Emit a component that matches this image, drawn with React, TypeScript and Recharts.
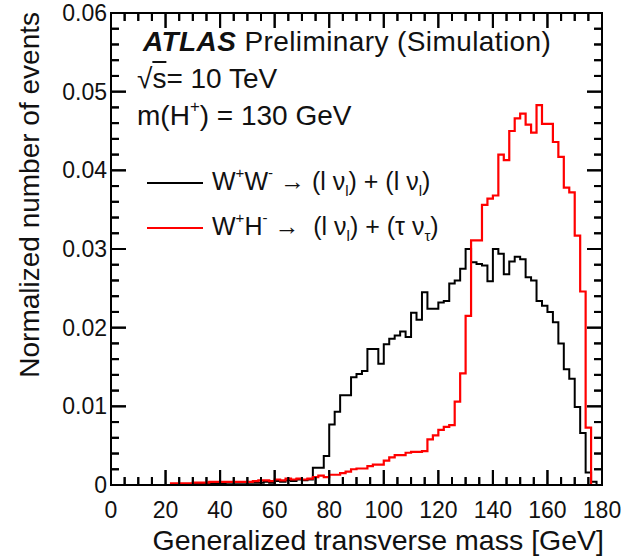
import React from 'react';
import { LineChart, Line, XAxis, YAxis, Label, ReferenceLine, ReferenceArea } from 'recharts';

const FONT = '"Liberation Sans", Arial, Helvetica, sans-serif';

// bin edges of the generalized transverse mass histogram [GeV]
const binEdges = [
  0, 2, 4, 6, 8, 10, 12, 14, 16, 18, 20, 22, 24, 26, 28, 30, 32, 34, 36, 38,
  40, 42, 44, 46, 48, 50, 52, 54, 56, 58, 60, 62, 64, 66, 68, 70, 72, 74, 76, 78,
  80, 82, 84, 86, 88, 90, 92, 94, 96, 98, 100, 102, 104, 106, 108, 110, 112, 114, 116, 118,
  120, 122, 124, 126, 128, 130, 132, 134, 136, 138, 140, 142, 144, 146, 148, 150, 152, 154, 156, 158,
  160, 162, 164, 166, 168, 170, 172, 174, 176, 178, 180,
];

// W+W- -> (l nu)(l nu)
const wwValues = [
  0, 0, 0, 0, 0, 0, 0, 0, 0, 0, 0,
  0.0001, 0.0001, 0.0001, 0.0001,
  0.0002, 0.0002, 0.0002, 0.0002, 0.0002, 0.0002,
  0.0003, 0.0003, 0.0003, 0.0003, 0.0003, 0.0003, 0.0003,
  0.0004, 0.0003,
  0.0005, 0.0004, 0.0006, 0.0005, 0.0007, 0.0006, 0.0007,
  0.0022, 0.0022, 0.0037, 0.0077, 0.0093, 0.0114, 0.0114, 0.0137, 0.0141, 0.0145,
  0.0173, 0.0173, 0.0154, 0.0179, 0.0186, 0.019, 0.0195, 0.0188, 0.0219, 0.021,
  0.0245, 0.0224, 0.0224, 0.0232, 0.0234, 0.0256, 0.026, 0.0275, 0.03, 0.0283,
  0.0281, 0.0279, 0.0259, 0.03, 0.0294, 0.0268, 0.0284, 0.029, 0.0287, 0.0264,
  0.026, 0.0234, 0.0228, 0.022, 0.0207, 0.018, 0.0147, 0.0135, 0.0099, 0.0066,
  0.0016, 0.0004, 0,
];

// W+H- -> (l nu)(tau nu)
const whValues = [
  0, 0, 0, 0, 0, 0, 0, 0, 0, 0, 0,
  0.0002, 0.0002, 0.0002, 0.0002,
  0.0003, 0.0003, 0.0003, 0.0004, 0.0004, 0.0004,
  0.0004, 0.0004, 0.0004, 0.0004, 0.0004, 0.0005, 0.0006,
  0.0006, 0.0005,
  0.0007, 0.0006, 0.0008, 0.0007, 0.0008, 0.0007, 0.0008,
  0.001, 0.0012, 0.001, 0.0013, 0.0013, 0.0015, 0.0017, 0.002, 0.0021, 0.0021,
  0.0024, 0.0026, 0.0026, 0.0031, 0.0035, 0.0038, 0.0038, 0.0041, 0.0042, 0.0042,
  0.0043, 0.0058, 0.0063, 0.007, 0.0074, 0.0076, 0.0106, 0.0142, 0.0215, 0.0311,
  0.0311, 0.0356, 0.0364, 0.0368, 0.042, 0.0413, 0.045, 0.0466, 0.0472, 0.0458,
  0.0448, 0.0483, 0.0459, 0.0459, 0.0436, 0.0417, 0.0378, 0.0372, 0.0317, 0.0246,
  0.0073, 0, 0,
];

const xMajorTicks = [0, 20, 40, 60, 80, 100, 120, 140, 160, 180];
const xMinorTicks = [5, 10, 15, 25, 30, 35, 45, 50, 55, 65, 70, 75, 85, 90, 95, 105, 110, 115, 125, 130, 135, 145, 150, 155, 165, 170, 175];
const yMajorTicks = [0, 0.01, 0.02, 0.03, 0.04, 0.05, 0.06];
const yMinorTicks = [
  0.002, 0.004, 0.006, 0.008, 0.012, 0.014, 0.016, 0.018, 0.022, 0.024, 0.026, 0.028,
  0.032, 0.034, 0.036, 0.038, 0.042, 0.044, 0.046, 0.048, 0.052, 0.054, 0.056, 0.058,
];

const xTicks = [...xMajorTicks, ...xMinorTicks].sort((a, b) => a - b);
const yTicks = [...yMajorTicks, ...yMinorTicks].sort((a, b) => a - b);

const X_MAX = 180;
const Y_MAX = 0.06;
// tick lengths in axis units (about 15px / 8px)
const X_TICK_LEN = { major: 0.0019, minor: 0.001 };
const Y_TICK_LEN = { major: 5.5, minor: 2.9 };

const WW_COLOR = '#000';
const WH_COLOR = '#ff0000';

// stepAfter needs a closing point at the last edge
const rows = binEdges.map((x, i) => ({
  x,
  ww: wwValues[Math.min(i, wwValues.length - 1)],
  wh: whValues[Math.min(i, whValues.length - 1)],
}));

const BottomTick = (p: any) => {
  const major = xMajorTicks.includes(p.payload.value);
  return (
    <g>
      <path d={`M${p.x},${p.y}v${-(major ? 15 : 8)}`} stroke="#000" strokeWidth={2} />
      {major && (
        <text x={p.x} y={p.y + 33} textAnchor="middle" fontSize={23} fontFamily={FONT} fill="#111">
          {String(p.payload.value)}
        </text>
      )}
    </g>
  );
};
const TopTick = (p: any) => (
  <g>
    <path d={`M${p.x},${p.y}v${xMajorTicks.includes(p.payload.value) ? 15 : 8}`} stroke="#000" strokeWidth={2} />
  </g>
);
const LeftTick = (p: any) => {
  const major = yMajorTicks.includes(p.payload.value);
  return (
    <g>
      <path d={`M${p.x},${p.y}h${major ? 15 : 8}`} stroke="#000" strokeWidth={2} />
      {major && (
        <text x={p.x - 4} y={p.y} dy="0.35em" textAnchor="end" fontSize={23} fontFamily={FONT} fill="#111">
          {String(p.payload.value)}
        </text>
      )}
    </g>
  );
};
const RightTick = (p: any) => (
  <g>
    <path d={`M${p.x},${p.y}h${-(yMajorTicks.includes(p.payload.value) ? 15 : 8)}`} stroke="#000" strokeWidth={2} />
  </g>
);

const XTitle = (p: any) => (
  <text x={p.viewBox.x + p.viewBox.width + 2} y={p.viewBox.y + 65} textAnchor="end" fontSize={28.5} fontFamily={FONT} fill="#111">
    Generalized transverse mass [GeV]
  </text>
);

const sup = (s: string) => (
  <span style={{ fontSize: '0.6em', position: 'relative', top: '-0.75em' }}>{s}</span>
);
const sub = (s: string) => (
  <span style={{ fontSize: '0.6em', position: 'relative', top: '0.45em' }}>{s}</span>
);

const legendItems = [
  {
    key: 'ww',
    color: WW_COLOR,
    label: <>W{sup('+')}W{sup('-')} → (l ν{sub('l')}) + (l ν{sub('l')})</>,
  },
  {
    key: 'wh',
    color: WH_COLOR,
    label: <>W{sup('+')}H{sup('-')} → &nbsp;(l ν{sub('l')}) + (τ ν{sub('τ')})</>,
  },
];

const frame = { stroke: '#000', strokeWidth: 2 };
const note = { position: 'absolute' as const, fontSize: 28, lineHeight: '28px', color: '#111', whiteSpace: 'nowrap' as const };

export default function App() {
  return (
    <div style={{ position: 'absolute', left: 0, top: 0, width: 629, height: 559 }}>
      <div style={{ position: 'relative', width: 629, height: 559, background: '#fff', fontFamily: FONT }}>
        <LineChart width={629} height={559} data={rows} margin={{ top: 11, right: 25, bottom: 0, left: 0 }}>
          <XAxis xAxisId="top" orientation="top" type="number" dataKey="x" domain={[0, X_MAX]} allowDataOverflow ticks={xTicks} interval={0} tick={TopTick} tickSize={0} tickMargin={0} height={2} axisLine={frame} />
          <YAxis yAxisId="right" orientation="right" type="number" domain={[0, Y_MAX]} allowDataOverflow ticks={yTicks} interval={0} tick={RightTick} tickSize={0} tickMargin={0} width={2} axisLine={frame} />
          <XAxis type="number" dataKey="x" domain={[0, X_MAX]} ticks={xTicks} interval={0} tick={BottomTick} tickSize={0} tickMargin={0} height={74} axisLine={frame}>
            <Label content={XTitle} />
          </XAxis>
          <YAxis type="number" domain={[0, Y_MAX]} ticks={yTicks} interval={0} tick={LeftTick} tickSize={0} tickMargin={0} width={111} axisLine={frame} />
          <ReferenceArea x1={0} x2={X_MAX} y1={0} y2={Y_MAX} fill="none" fillOpacity={0} stroke="#000" strokeWidth={2} />
          {xTicks.map((v) => {
            const len = xMajorTicks.includes(v) ? X_TICK_LEN.major : X_TICK_LEN.minor;
            return (
              <React.Fragment key={`xt-${v}`}>
                <ReferenceLine segment={[{ x: v, y: 0 }, { x: v, y: len }]} stroke="#000" strokeWidth={2} />
                <ReferenceLine segment={[{ x: v, y: Y_MAX }, { x: v, y: Y_MAX - len }]} stroke="#000" strokeWidth={2} />
              </React.Fragment>
            );
          })}
          {yTicks.map((v) => {
            const len = yMajorTicks.includes(v) ? Y_TICK_LEN.major : Y_TICK_LEN.minor;
            return (
              <React.Fragment key={`yt-${v}`}>
                <ReferenceLine segment={[{ x: 0, y: v }, { x: len, y: v }]} stroke="#000" strokeWidth={2} />
                <ReferenceLine segment={[{ x: X_MAX, y: v }, { x: X_MAX - len, y: v }]} stroke="#000" strokeWidth={2} />
              </React.Fragment>
            );
          })}
          <Line dataKey="ww" type="stepAfter" stroke={WW_COLOR} strokeWidth={2} dot={false} activeDot={false} isAnimationActive={false} />
          <Line dataKey="wh" type="stepAfter" stroke={WH_COLOR} strokeWidth={2.2} dot={false} activeDot={false} isAnimationActive={false} />
        </LineChart>
        <div style={{ position: 'absolute', left: 147, top: 160, fontFamily: FONT, color: '#111' }}>
          {legendItems.map((it) => (
            <div key={it.key} style={{ display: 'flex', alignItems: 'center', height: 45, whiteSpace: 'nowrap' }}>
              <div style={{ width: 56, height: 0, borderTop: `2px solid ${it.color}`, flex: 'none' }} />
              <span style={{ fontSize: 25, lineHeight: '25px', marginLeft: 9 }}>{it.label}</span>
            </div>
          ))}
        </div>
        <div
          style={{
            position: 'absolute', left: 16, top: 12, width: 28, height: 366,
            display: 'flex', alignItems: 'flex-start', justifyContent: 'center',
          }}
        >
          <div style={{ writingMode: 'vertical-rl', transform: 'rotate(180deg)', fontSize: 28, lineHeight: '28px', color: '#111', whiteSpace: 'nowrap' }}>
            Normalized number of events
          </div>
        </div>
        <div style={{ ...note, left: 143, top: 28, letterSpacing: 0.4 }}>
          <b><i>ATLAS</i></b> Preliminary (Simulation)
        </div>
        <div style={{ ...note, left: 137, top: 65 }}>
          √<span style={{ textDecoration: 'overline' }}>s</span>= 10 TeV
        </div>
        <div style={{ ...note, left: 137, top: 102 }}>
          m(H{sup('+')}) = 130 GeV
        </div>
      </div>
    </div>
  );
}
